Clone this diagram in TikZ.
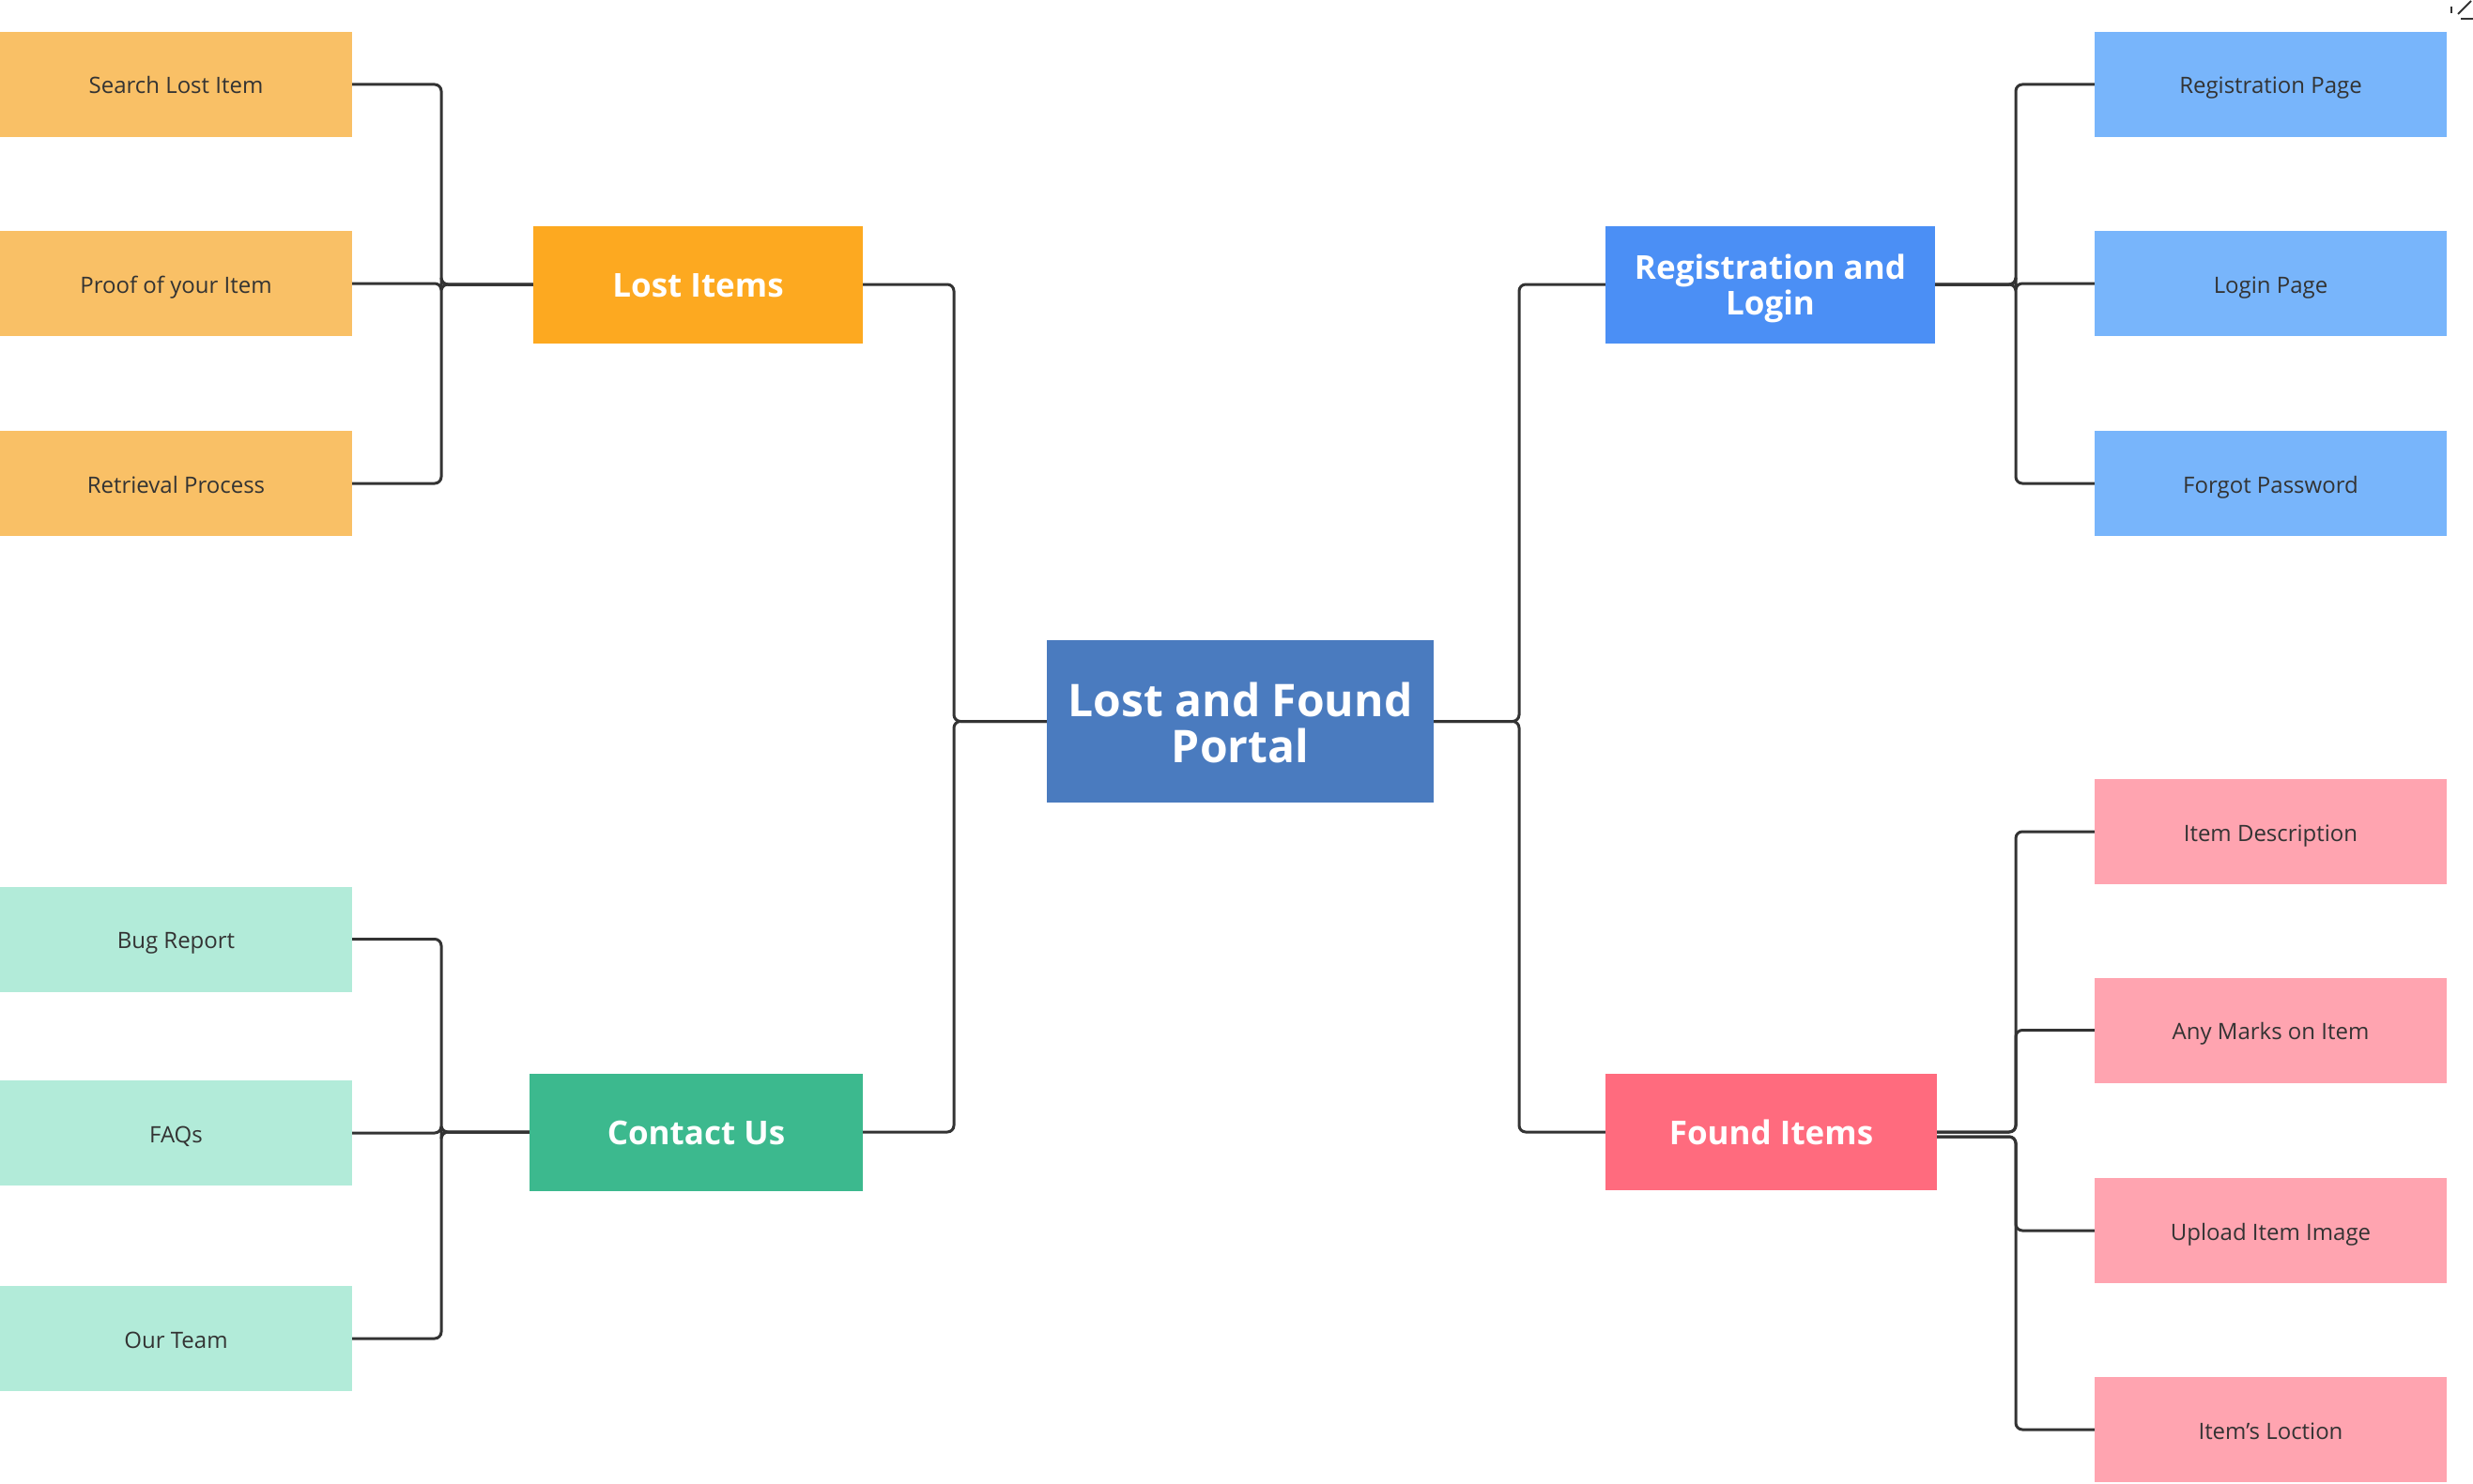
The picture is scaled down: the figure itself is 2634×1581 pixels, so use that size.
\documentclass[tikz,border=0pt]{standalone}
\usepackage{fontspec}
\setmainfont{Open Sans}
\definecolor{cOrangeL}{HTML}{F9C066}
\definecolor{cOrange}{HTML}{FDA920}
\definecolor{cCenter}{HTML}{4A7BBF}
\definecolor{cBlue}{HTML}{4B8FF5}
\definecolor{cBlueL}{HTML}{78B5FB}
\definecolor{cPink}{HTML}{FF6B7E}
\definecolor{cPinkL}{HTML}{FFA4B0}
\definecolor{cGreen}{HTML}{3CB98E}
\definecolor{cGreenL}{HTML}{B2EBD9}
\definecolor{cLine}{HTML}{333333}
\definecolor{cText}{HTML}{333333}
\tikzset{
  child/.style={rectangle, inner sep=0pt, minimum width=375pt, minimum height=112pt,
    text=cText, font=\fontsize{24}{28}\selectfont, align=center,
    text height=26pt, text depth=6pt},
  parent/.style={rectangle, inner sep=0pt, minimum height=125pt,
    text=white, font=\fontsize{35}{38}\selectfont\bfseries, align=center,
    text height=34pt, text depth=8pt},
  conn/.style={draw=cLine, line width=3pt, rounded corners=7pt},
}
\begin{document}
\begin{tikzpicture}[x=1pt,y=-1pt]
\useasboundingbox (0,0) rectangle (2634,1581);
\fill[white] (0,0) rectangle (2634,1581);
% bus coordinates
\coordinate (busLL) at (470,0);
\coordinate (busCL) at (1016,0);
\coordinate (busCR) at (1618,0);
\coordinate (busRR) at (2147,0);
% center
\node[parent, fill=cCenter, minimum width=412pt, minimum height=173pt,
  font=\fontsize{48}{49}\selectfont\bfseries, text height=95pt, text depth=8pt] (center) at (1321,768.5) {Lost and Found\\Portal};
% parents
\node[parent, fill=cOrange, minimum width=351pt] (lost) at (743.5,303) {Lost Items};
\node[parent, fill=cGreen, minimum width=355pt] (contact) at (741.5,1206) {Contact Us};
\node[parent, fill=cBlue, minimum width=351pt, text height=72pt] (reg) at (1885.5,303) {Registration and\\Login};
\node[parent, fill=cPink, minimum width=353pt, minimum height=124pt] (found) at (1886.5,1206) {Found Items};
% lost children
\node[child, fill=cOrangeL] (search) at (187.5,90) {Search Lost Item};
\node[child, fill=cOrangeL] (proof) at (187.5,302) {Proof of your Item};
\node[child, fill=cOrangeL] (retr) at (187.5,515) {Retrieval Process};
% contact children
\node[child, fill=cGreenL] (bug) at (187.5,1000.5) {Bug Report};
\node[child, fill=cGreenL] (faq) at (187.5,1207) {FAQs};
\node[child, fill=cGreenL] (team) at (187.5,1426) {Our Team};
% reg children
\node[child, fill=cBlueL] (regp) at (2418.5,90) {Registration Page};
\node[child, fill=cBlueL] (login) at (2418.5,302) {Login Page};
\node[child, fill=cBlueL] (forgot) at (2418.5,515) {Forgot Password};
% found children
\node[child, fill=cPinkL] (desc) at (2418.5,886) {Item Description};
\node[child, fill=cPinkL] (marks) at (2418.5,1097.5) {Any Marks on Item};
\node[child, fill=cPinkL] (upload) at (2418.5,1311) {Upload Item Image};
\node[child, fill=cPinkL] (loc) at (2418.5,1523) {Item's Loction};
% center connectors
\draw[conn] (lost.east) -| (busCL |- center.west) -- (center.west);
\draw[conn] (contact.east) -| (busCL |- center.west) -- (center.west);
\draw[conn] (reg.west) -| (busCR |- center.east) -- (center.east);
\draw[conn] (found.west) -| (busCR |- center.east) -- (center.east);
% lost connectors
\draw[conn] (search.east) -| (busLL |- lost.west) -- (lost.west);
\draw[conn] (proof.east) -| (busLL |- lost.west) -- (lost.west);
\draw[conn] (retr.east) -| (busLL |- lost.west) -- (lost.west);
% contact connectors
\draw[conn] (bug.east) -| (busLL |- contact.west) -- (contact.west);
\draw[conn] (faq.east) -| (busLL |- contact.west) -- (contact.west);
\draw[conn] (team.east) -| (busLL |- contact.west) -- (contact.west);
% reg connectors
\draw[conn] (regp.west) -| (busRR |- reg.east) -- (reg.east);
\draw[conn] (login.west) -| (busRR |- reg.east) -- (reg.east);
\draw[conn] (forgot.west) -| (busRR |- reg.east) -- (reg.east);
% found connectors
\draw[conn] (desc.west) -| (busRR |- found.east) -- (found.east);
\draw[conn] (marks.west) -| (busRR |- found.east) -- (found.east);
\coordinate (foundlow) at ([yshift=-5pt]found.east);
\draw[conn] (upload.west) -| (busRR |- foundlow) -- (foundlow);
\draw[conn] (loc.west) -| (busRR |- foundlow) -- (foundlow);
% corner artifact
\draw[cLine, line width=2pt] (2611,7) -- (2611,14);
\draw[cLine, line width=2pt] (2618,15) -- (2632,1);
\draw[cLine, line width=2pt] (2621,20) -- (2634,20);
\end{tikzpicture}
\end{document}
